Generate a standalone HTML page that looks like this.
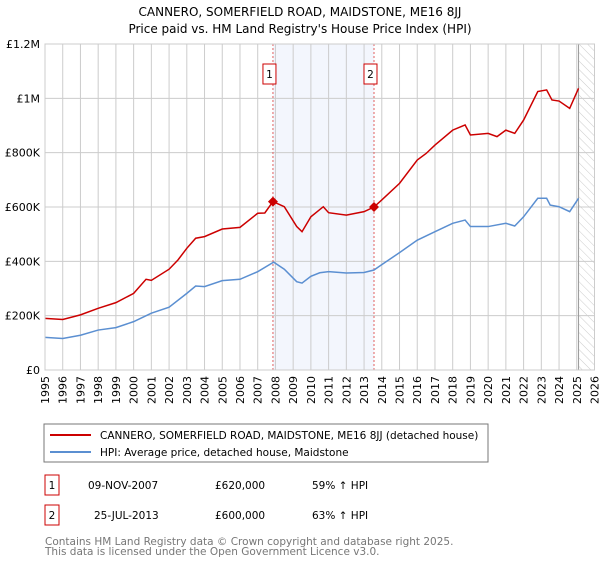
<!DOCTYPE html>
<html><head><meta charset="utf-8">
<style>
body{margin:0;background:#fff;font-family:"DejaVu Sans","Liberation Sans",sans-serif;}
svg text{font-family:"DejaVu Sans","Liberation Sans",sans-serif;}
</style></head>
<body>
<svg id="chart" width="600" height="560" viewBox="0 0 600 560">
<defs>
<pattern id="hatch" width="6" height="6" patternUnits="userSpaceOnUse" patternTransform="rotate(-45)">
<line x1="0" y1="0" x2="0" y2="6" stroke="#ccc" stroke-width="1"/>
</pattern>
</defs>
<text x="300" y="16" text-anchor="middle" font-size="12">CANNERO, SOMERFIELD ROAD, MAIDSTONE, ME16 8JJ</text>
<text x="300" y="33" text-anchor="middle" font-size="12">Price paid vs. HM Land Registry's House Price Index (HPI)</text>
<g id="grid"></g>
<g id="marks"></g>
<g id="axes"></g>
<rect x="44" y="424" width="444" height="38" fill="#fff" stroke="#777"/>
<line x1="50" y1="435" x2="91" y2="435" stroke="#cc0000" stroke-width="2"/>
<text x="100" y="439" font-size="10.5">CANNERO, SOMERFIELD ROAD, MAIDSTONE, ME16 8JJ (detached house)</text>
<line x1="50" y1="452" x2="91" y2="452" stroke="#5b8fd1" stroke-width="2"/>
<text x="100" y="456" font-size="10.5">HPI: Average price, detached house, Maidstone</text>
<g>
<rect x="45" y="475" width="14" height="20" fill="#fff" stroke="#cc0000"/>
<text x="52" y="489" text-anchor="middle" font-size="10.5">1</text>
<text x="88" y="489" font-size="10.5">09-NOV-2007</text>
<text x="215" y="489" font-size="10.5">£620,000</text>
<text x="312" y="489" font-size="10.5">59% ↑ HPI</text>
</g>
<g>
<rect x="45" y="505" width="14" height="20" fill="#fff" stroke="#cc0000"/>
<text x="52" y="519" text-anchor="middle" font-size="10.5">2</text>
<text x="94" y="519" font-size="10.5">25-JUL-2013</text>
<text x="215" y="519" font-size="10.5">£600,000</text>
<text x="312" y="519" font-size="10.5">63% ↑ HPI</text>
</g>
<text x="45" y="545" font-size="10.5" fill="#777">Contains HM Land Registry data © Crown copyright and database right 2025.</text>
<text x="45" y="555" font-size="10.5" fill="#777">This data is licensed under the Open Government Licence v3.0.</text>
</svg>
<script>
const hpiYears=[1995,1996,1997,1998,1999,2000,2001,2002,2003,2003.5,2004,2005,2006,2007,2007.9,2008.5,2009.2,2009.5,2010,2010.5,2011,2012,2013,2013.56,2014,2015,2016,2017,2018,2018.7,2019,2020,2021,2021.5,2022,2022.8,2023.3,2023.5,2024,2024.6,2025.1];
const hpiValues=[120,116,128,147,156,178,209,231,282,309,307,329,334,362,397,371,325,320,345,358,362,357,359,368,388,432,478,509,540,552,528,528,540,530,564,632,632,607,601,583,632];
const redYears=[1995,1996,1997,1998,1999,2000,2000.7,2001,2002,2002.5,2003,2003.5,2004,2005,2006,2007,2007.4,2007.86,2008.5,2009.2,2009.5,2010,2010.7,2011,2012,2013,2013.56,2014,2015,2016,2016.5,2017,2018,2018.7,2019,2020,2020.5,2021,2021.5,2022,2022.8,2023.3,2023.6,2024,2024.6,2025.1];
const redValues=[190,186,203,227,248,282,334,330,371,405,448,485,491,519,525,577,578,620,601,528,509,564,601,579,570,583,600,626,687,773,797,828,883,902,865,871,859,883,871,920,1025,1031,994,990,963,1037];
const sales=[{n:"1",year:2007.86,value:620},{n:"2",year:2013.56,value:600}];
const yTicks=[0,200,400,600,800,1000,1200];
const yTickLabels=["£0","£200K","£400K","£600K","£800K","£1M","£1.2M"];
const xTicks=[1995,1996,1997,1998,1999,2000,2001,2002,2003,2004,2005,2006,2007,2008,2009,2010,2011,2012,2013,2014,2015,2016,2017,2018,2019,2020,2021,2022,2023,2024,2025,2026];

const X0=45,X1=594.5,Y0=370,Y1=44;
const xs=y=>X0+(y-1995)/(2026-1995)*(X1-X0);
const ys=v=>Y0-v/1200*(Y0-Y1);
const NS="http://www.w3.org/2000/svg";
function mk(tag,attrs,parent){const e=document.createElementNS(NS,tag);for(const k in attrs)e.setAttribute(k,attrs[k]);parent.appendChild(e);return e;}
const grid=document.getElementById('grid'),marks=document.getElementById('marks'),axes=document.getElementById('axes');

const shade=mk('rect',{x:xs(sales[0].year),y:Y1,width:xs(sales[1].year)-xs(sales[0].year),height:Y0-Y1,fill:'#eef2fc',opacity:0.7},grid);


const hatch=mk('rect',{x:xs(2025.1),y:Y1,width:X1-xs(2025.1),height:Y0-Y1,fill:'url(#hatch)'},grid);



xTicks.forEach(t=>{
 const l=mk('line',{x1:xs(t),x2:xs(t),y1:Y1,y2:Y0,stroke:'#ccc','stroke-width':1},grid);
 
 
 const tx=mk('text',{x:0,y:0,'font-size':11,'text-anchor':'end',transform:`translate(${xs(t)+4},${Y0+6}) rotate(-90)`},axes);
 tx.textContent=t;
 
 
});
yTicks.forEach((t,i)=>{
 const l=mk('line',{x1:X0,x2:X1,y1:ys(t),y2:ys(t),stroke:'#ccc','stroke-width':1},grid);
 
 
 const tx=mk('text',{x:40,y:ys(t)+4,'font-size':11,'text-anchor':'end'},axes);
 tx.textContent=yTickLabels[i];
 
 
});
const endLine=mk('line',{x1:xs(2025.1),x2:xs(2025.1),y1:Y1,y2:Y0,stroke:'#999','stroke-width':1},grid);



sales.forEach(s=>{
 const l=mk('line',{x1:xs(s.year),x2:xs(s.year),y1:Y1,y2:Y0,stroke:'#e06060','stroke-width':1,'stroke-dasharray':'2,2'},grid);
 
 
});

const hp=mk('polyline',{points:hpiYears.map((y,i)=>xs(y)+','+ys(hpiValues[i])).join(' '),fill:'none',stroke:'#5b8fd1','stroke-width':1.5},marks);


const rp=mk('polyline',{points:redYears.map((y,i)=>xs(y)+','+ys(redValues[i])).join(' '),fill:'none',stroke:'#cc0000','stroke-width':1.5},marks);



sales.forEach(s=>{
 const cx=xs(s.year),cy=ys(s.value);
 const d=mk('polygon',{points:`${cx},${cy-5} ${cx+5},${cy} ${cx},${cy+5} ${cx-5},${cy}`,fill:'#cc0000'},marks);
 
 
 const b=mk('rect',{x:cx-10,y:64,width:13,height:20,fill:'#fff',stroke:'#cc0000'},marks);
 
 
 const t=mk('text',{x:cx-3.5,y:78,'font-size':10.5,'text-anchor':'middle'},marks);
 t.textContent=s.n;
 
 
});
const frame=mk('rect',{x:X0,y:Y1,width:X1-X0,height:Y0-Y1,fill:'none',stroke:'#ccc'},axes);


</script>
</body></html>
